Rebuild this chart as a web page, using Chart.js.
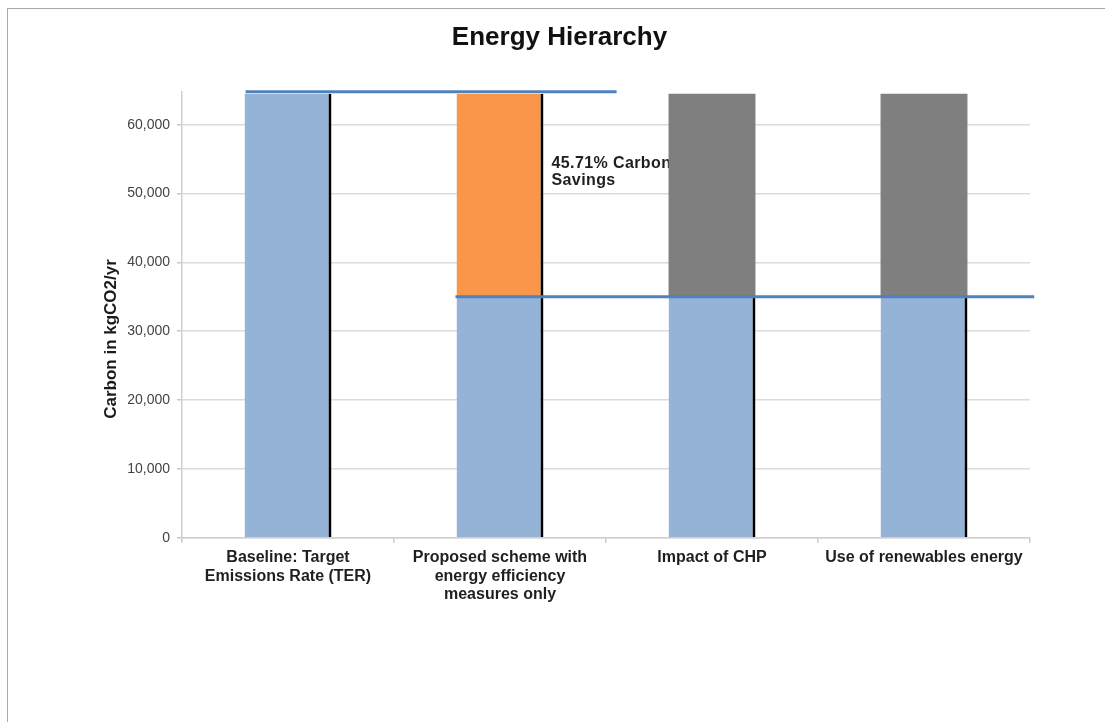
<!DOCTYPE html>
<html>
<head>
<meta charset="utf-8">
<title>Energy Hierarchy</title>
<script src="https://cdn.jsdelivr.net/npm/chart.js@4.4.1/dist/chart.umd.min.js"></script>
<style>
  html, body { margin: 0; padding: 0; background: #ffffff; }
  #wrap { position: relative; width: 1105px; height: 722px; overflow: hidden; }
  #frame {
    position: absolute; left: 7px; top: 8px; right: -4px; bottom: -4px;
    border-top: 1px solid #a8a8a8; border-left: 1px solid #a8a8a8;
  }
  #chart { position: absolute; left: 0; top: 0; }
</style>
</head>
<body>
<div id="wrap">
  <div id="frame"></div>
  <canvas id="chart" width="1105" height="722"></canvas>
</div>
<script>
// Scenario names shown under each column
const categories = [
  ['Baseline: Target', 'Emissions Rate (TER)'],
  ['Proposed scheme with', 'energy efficiency', 'measures only'],
  'Impact of CHP',
  'Use of renewables energy'
];

// Remaining emissions per scenario (kgCO2/yr)
const emissions = [64500, 35017, 35017, 35017];

// Target emissions rate the savings are measured against
const baselineEmissions = 64500;

// Fill of the saved part above each remaining bar
const savingColours = [null, '#f9964a', '#7f7f7f', '#7f7f7f'];
const savingEdges = [0, 3, 0, 0];

// Value axis
const yTicks = [0, 10000, 20000, 30000, 40000, 50000, 60000];
const yMax = 64800;

const savings = emissions.map(v => (baselineEmissions - v) > 0 ? baselineEmissions - v : null);
const savingPct = ((baselineEmissions - emissions[1]) / baselineEmissions * 100).toFixed(2);

const FONT = '"Liberation Sans", Arial, Helvetica, sans-serif';

// Reference lines at the baseline and at the improved level (in category units)
const levelLines = [
  { value: baselineEmissions, from: -0.2, to: 1.55, lift: 2 },
  { value: emissions[1], from: 0.79, to: 3.52, lift: 0 }
];

const decorations = {
  id: 'decorations',
  beforeDatasetsDraw(chart) {
    // drawn under the bars so the next column covers the end of the text
    const ctx = chart.ctx;
    const y = chart.scales.y;
    const bar = chart.getDatasetMeta(1).data[1];
    const left = bar.x + bar.width / 2 + 8;
    const top = y.getPixelForValue(baselineEmissions) + 70;
    ctx.save();
    ctx.fillStyle = '#1f1f1f';
    ctx.font = 'bold 16px ' + FONT;
    ctx.letterSpacing = '0.4px';
    ctx.textAlign = 'left';
    ctx.textBaseline = 'middle';
    ctx.fillText(savingPct + '% Carbon', left, top);
    ctx.fillText('Savings', left, top + 17);
    ctx.restore();
  },
  afterDatasetsDraw(chart) {
    const ctx = chart.ctx;
    const x = chart.scales.x;
    const y = chart.scales.y;
    ctx.save();
    ctx.strokeStyle = '#4f81bd';
    ctx.lineWidth = 3;
    ctx.lineCap = 'butt';
    levelLines.forEach(l => {
      const py = y.getPixelForValue(l.value) - l.lift;
      ctx.beginPath();
      ctx.moveTo(x.getPixelForValue(l.from), py);
      ctx.lineTo(x.getPixelForValue(l.to), py);
      ctx.stroke();
    });
    ctx.restore();
  },
  afterDraw(chart) {
    const ctx = chart.ctx;
    ctx.save();
    ctx.fillStyle = '#111111';
    ctx.font = 'bold 26px ' + FONT;
    ctx.textAlign = 'center';
    ctx.textBaseline = 'middle';
    ctx.fillText('Energy Hierarchy', 559.5, 38);

    ctx.translate(111, 339);
    ctx.rotate(-Math.PI / 2);
    ctx.font = 'bold 17px ' + FONT;
    ctx.fillStyle = '#1a1a1a';
    ctx.fillText('Carbon in kgCO2/yr', 0, 0);
    ctx.restore();
  }
};

new Chart(document.getElementById('chart'), {
  type: 'bar',
  data: {
    labels: categories,
    datasets: [
      {
        label: 'Remaining emissions',
        data: emissions,
        backgroundColor: '#95b3d7',
        borderColor: '#000000',
        borderWidth: { top: 0, right: 3, bottom: 0, left: 0 },
        borderSkipped: false,
        inflateAmount: 0,
        barPercentage: 0.41,
        categoryPercentage: 1
      },
      {
        label: 'Savings',
        data: savings,
        backgroundColor: savingColours,
        borderColor: '#000000',
        borderWidth: ctx => ({ top: 0, right: savingEdges[ctx.dataIndex] || 0, bottom: 0, left: 0 }),
        borderSkipped: false,
        inflateAmount: 0,
        barPercentage: 0.41,
        categoryPercentage: 1
      }
    ]
  },
  options: {
    responsive: false,
    devicePixelRatio: 1,
    animation: false,
    layout: { padding: { top: 91.6, left: 100, right: 75, bottom: 0 } },
    plugins: {
      legend: { display: false },
      title: { display: false },
      tooltip: { enabled: false }
    },
    scales: {
      x: {
        stacked: true,
        afterFit: s => { s.height = 722 - 537.7; },
        grid: {
          drawOnChartArea: false,
          drawTicks: true,
          tickLength: 5,
          tickColor: '#c8c8c8',
          lineWidth: 1.5
        },
        border: { color: '#cfcfcf', width: 1.5 },
        ticks: {
          autoSkip: false,
          maxRotation: 0,
          padding: 6,
          color: '#1f1f1f',
          font: { family: FONT, size: 16, weight: 'bold', lineHeight: 1.15 }
        }
      },
      y: {
        stacked: true,
        min: 0,
        max: yMax,
        afterFit: s => { s.width = 82; },
        afterBuildTicks: s => { s.ticks = yTicks.map(v => ({ value: v })); },
        grid: {
          color: '#dcdcdc',
          lineWidth: 1.5,
          tickLength: 5,
          tickColor: '#c8c8c8'
        },
        border: { color: '#cfcfcf', width: 1.5 },
        ticks: {
          padding: 7,
          color: '#444444',
          font: { family: FONT, size: 14 },
          callback: v => Number(v).toLocaleString('en-US')
        }
      }
    }
  },
  plugins: [decorations]
});
</script>
</body>
</html>
